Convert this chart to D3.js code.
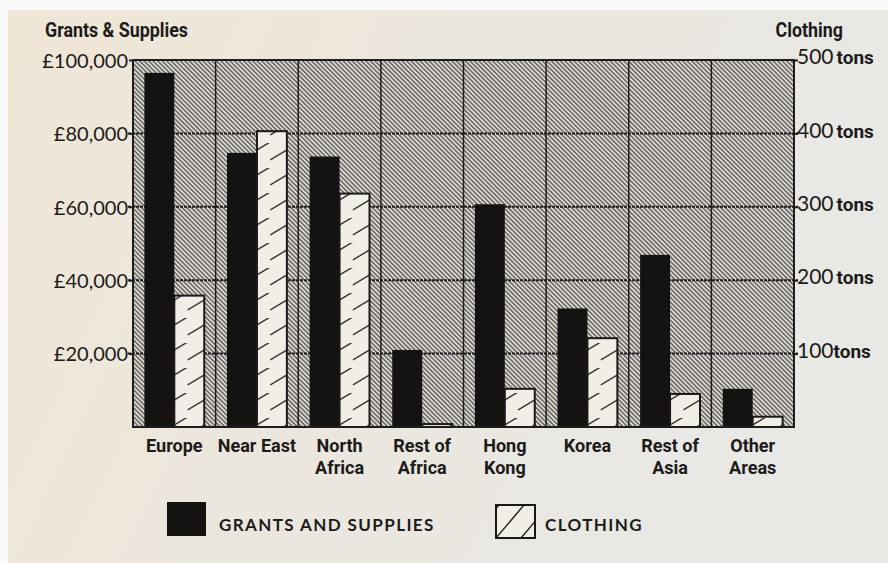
<!DOCTYPE html>
<html>
<head>
<meta charset="utf-8">
<script src="https://cdn.jsdelivr.net/npm/d3@7"></script>
<style>
  body { margin: 0; background: #fafafa; }
  svg { display: block; }
</style>
</head>
<body>
<div id="chart"></div>
<script>
(function(){
  // categories, with line breaks where the printed labels wrap
  const categories = ["Europe", "Near East", "North\nAfrica", "Rest of\nAfrica", "Hong\nKong", "Korea", "Rest of\nAsia", "Other\nAreas"];
  // Grants & Supplies in pounds
  const grants = [96500, 74700, 73700, 21000, 60700, 32300, 46900, 10400];
  // Clothing in tons
  const clothing = [179, 403, 318, 4, 52, 121, 45, 14];
  const grantTicks = [20000, 40000, 60000, 80000, 100000];
  const clothingTicks = [100, 200, 300, 400, 500];

  const W = 888, H = 563;
  const margin = { top: 60, right: 94, bottom: 136, left: 133 };
  const width = W - margin.left - margin.right;
  const height = H - margin.top - margin.bottom;

  const condFont = "Roboto, 'DejaVu Sans', sans-serif";
  const roundFont = "Lato, 'Open Sans', sans-serif";

  const root = d3.select("#chart").append("svg")
    .attr("width", W)
    .attr("height", H);

  const defs = root.append("defs");

  // paper tone of the photographed page
  const paper = defs.append("linearGradient").attr("id", "paper")
    .attr("x1", "0").attr("y1", "0").attr("x2", "1").attr("y2", "0.3");
  paper.append("stop").attr("offset", "0").attr("stop-color", "#f0e6d6");
  paper.append("stop").attr("offset", "0.55").attr("stop-color", "#ebe7df");
  paper.append("stop").attr("offset", "1").attr("stop-color", "#e8e8e5");

  // fine diagonal hatch for the plot background
  const hatch = defs.append("pattern").attr("id", "hatch")
    .attr("patternUnits", "userSpaceOnUse")
    .attr("width", 3.2).attr("height", 3.2)
    .attr("patternTransform", "rotate(-45)");
  hatch.append("rect").attr("width", 3.2).attr("height", 3.2).attr("fill", "#dddbd4");
  hatch.append("line").attr("x1", 0.8).attr("y1", 0).attr("x2", 0.8).attr("y2", 3.2)
    .attr("stroke", "#3a3937").attr("stroke-width", 1.1);

  root.append("rect").attr("x", 8).attr("y", 10).attr("width", W - 8).attr("height", H - 10)
    .attr("fill", "url(#paper)");

  const svg = root.append("g")
    .attr("transform", `translate(${margin.left},${margin.top})`);

  // scales
  const x = d3.scaleBand().domain(categories).range([0, width]).padding(0);
  const inner = d3.scaleBand().domain(["grants", "clothing"])
    .range([0, x.bandwidth()]).paddingInner(0).paddingOuter(0.38);
  const yL = d3.scaleLinear().domain([0, 100000]).range([height, 0]);
  const yR = d3.scaleLinear().domain([0, 500]).range([height, 0]);

  // helper for condensed bold labels (squeezed horizontally)
  function condText(parent, str, px, py, anchor, size, sx) {
    return parent.append("text")
      .attr("transform", `translate(${px},${py}) scale(${sx},1)`)
      .attr("text-anchor", anchor)
      .style("font-family", condFont)
      .style("font-weight", 700)
      .style("font-size", size + "px")
      .attr("fill", "#1c1b1a")
      .text(str);
  }

  // plot background
  svg.append("rect")
    .attr("width", width).attr("height", height)
    .attr("fill", "url(#hatch)");

  // horizontal grid lines with short outside ticks
  svg.append("g").selectAll("line")
    .data(grantTicks.slice(0, -1))
    .join("line")
    .attr("x1", -5).attr("x2", width + 4)
    .attr("y1", d => yL(d)).attr("y2", d => yL(d))
    .attr("stroke", "#1e1d1c")
    .attr("stroke-width", 2)
    .attr("stroke-dasharray", "3,1");

  // vertical dividers between regions
  svg.append("g").selectAll("line")
    .data(categories.slice(1))
    .join("line")
    .attr("x1", d => x(d)).attr("x2", d => x(d))
    .attr("y1", 0).attr("y2", height)
    .attr("stroke", "#1e1d1c")
    .attr("stroke-width", 1.5);

  // left axis labels
  const axL = svg.append("g")
    .call(d3.axisLeft(yL).tickValues(grantTicks).tickSize(4).tickPadding(1)
      .tickFormat(d => "£" + d3.format(",")(d)));
  axL.select(".domain").remove();
  axL.selectAll(".tick line").attr("stroke", "#1e1d1c").attr("stroke-width", 2);
  axL.selectAll(".tick text")
    .attr("dy", "0.36em")
    .style("font-family", roundFont)
    .style("font-size", "20px")
    .attr("fill", "#1c1b1a");

  // right axis labels: number + bold "tons"
  const axR = svg.append("g")
    .attr("transform", `translate(${width},0)`)
    .call(d3.axisRight(yR).tickValues(clothingTicks).tickSize(4).tickPadding(2)
      .tickFormat(""));
  axR.select(".domain").remove();
  axR.selectAll(".tick line").attr("stroke", "#1e1d1c").attr("stroke-width", 2);
  axR.selectAll(".tick").each(function(d) {
    const t = d3.select(this).append("text")
      .attr("x", 3).attr("dy", "0.36em")
      .attr("fill", "#1c1b1a");
    t.append("tspan")
      .style("font-family", roundFont)
      .style("font-size", "21px")
      .text(d);
    t.append("tspan")
      .attr("dx", d === 100 ? 0 : 3)
      .style("font-family", condFont)
      .style("font-weight", 700)
      .style("font-size", "19px")
      .text("tons");
  });

  // grants bars
  svg.append("g").selectAll("rect")
    .data(categories)
    .join("rect")
    .attr("x", d => x(d) + inner("grants"))
    .attr("y", (d, i) => yL(grants[i]))
    .attr("width", inner.bandwidth())
    .attr("height", (d, i) => height - yL(grants[i]))
    .attr("fill", "#141312");

  // clothing bars: cream fill with wide diagonal strokes, one pattern per bar
  categories.forEach((c, i) => {
    const bx = margin.left + x(c) + inner("clothing");
    const p = defs.append("pattern").attr("id", "cloth" + i)
      .attr("patternUnits", "userSpaceOnUse")
      .attr("x", bx).attr("y", margin.top + height + 6)
      .attr("width", inner.bandwidth()).attr("height", 25);
    p.append("rect").attr("width", inner.bandwidth()).attr("height", 25).attr("fill", "#f1eee7");
    p.append("line").attr("x1", 0).attr("y1", 17).attr("x2", inner.bandwidth()).attr("y2", -1)
      .attr("stroke", "#1e1d1c").attr("stroke-width", 1.3);
  });

  svg.append("g").selectAll("rect")
    .data(categories)
    .join("rect")
    .attr("x", d => x(d) + inner("clothing"))
    .attr("y", (d, i) => yR(clothing[i]))
    .attr("width", inner.bandwidth())
    .attr("height", (d, i) => height - yR(clothing[i]))
    .attr("fill", (d, i) => `url(#cloth${i})`)
    .attr("stroke", "#1a1918")
    .attr("stroke-width", 2);

  // plot border
  svg.append("rect")
    .attr("width", width).attr("height", height)
    .attr("fill", "none")
    .attr("stroke", "#1e1d1c")
    .attr("stroke-width", 2);

  // category labels
  categories.forEach(c => {
    c.split("\n").forEach((line, k) => {
      condText(svg, line, x(c) + x.bandwidth() / 2, height + 25 + k * 22, "middle", 19, 0.95);
    });
  });

  // axis titles
  condText(root, "Grants & Supplies", 45, 37, "start", 21, 0.85);
  condText(root, "Clothing", 843, 37, "end", 21, 0.85);

  // legend
  const legend = root.append("g");
  legend.append("rect")
    .attr("x", 167).attr("y", 502).attr("width", 39).attr("height", 34)
    .attr("fill", "#141312");
  legend.append("text")
    .attr("x", 219).attr("y", 531)
    .style("font-family", roundFont)
    .style("font-weight", 700)
    .style("font-size", "17px")
    .style("letter-spacing", "1.4px")
    .attr("fill", "#1c1b1a")
    .text("GRANTS AND SUPPLIES");

  defs.append("clipPath").attr("id", "legClip")
    .append("rect").attr("x", 496).attr("y", 505).attr("width", 39).attr("height", 33);
  legend.append("rect")
    .attr("x", 496).attr("y", 505).attr("width", 39).attr("height", 33)
    .attr("fill", "#f1eee7");
  legend.append("g").attr("clip-path", "url(#legClip)")
    .selectAll("line")
    .data([-25, 0, 25])
    .join("line")
    .attr("x1", d => 496 + d).attr("y1", 538)
    .attr("x2", d => 496 + d + 28).attr("y2", 505)
    .attr("stroke", "#1e1d1c").attr("stroke-width", 1.4);
  legend.append("rect")
    .attr("x", 496).attr("y", 505).attr("width", 39).attr("height", 33)
    .attr("fill", "none")
    .attr("stroke", "#1a1918").attr("stroke-width", 2);
  legend.append("text")
    .attr("x", 545).attr("y", 531)
    .style("font-family", roundFont)
    .style("font-weight", 700)
    .style("font-size", "17px")
    .style("letter-spacing", "1.4px")
    .attr("fill", "#1c1b1a")
    .text("CLOTHING");
})();
</script>
</body>
</html>
